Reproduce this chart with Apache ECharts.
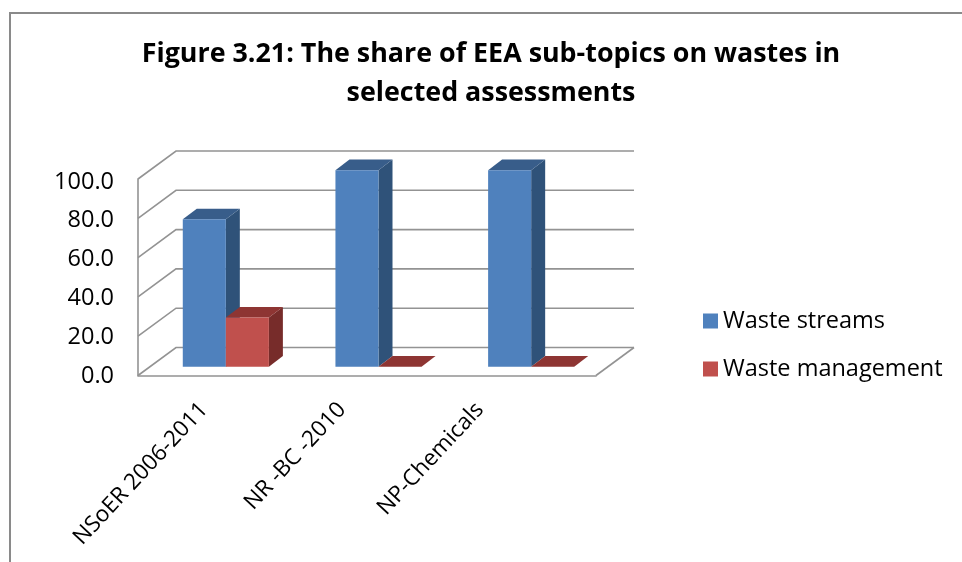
<!DOCTYPE html>
<html>
<head>
<meta charset="utf-8">
<script src="https://cdn.jsdelivr.net/npm/echarts@6/dist/echarts.min.js"></script>
<style>html,body{margin:0;padding:0;background:#fff}#c{width:962px;height:562px}</style>
</head>
<body>
<div id="c"></div>
<script>
const titleText = 'Figure 3.21: The share of EEA sub-topics on wastes in\nselected assessments';
const categories = ['NSoER 2006-2011', 'NR -BC -2010', 'NP-Chemicals'];
const wasteStreams = [75, 100, 100];
const wasteManagement = [25, 0, 0];
const valueTicks = [0, 20, 40, 60, 80, 100];

const FONT = '"Open Sans"';
const DEPTH_X = 38, DEPTH_Y = -28;
const BAR_SHIFT_X = 11.5, BAR_SHIFT_Y = -8.8, BAR_DX = 14, BAR_DY = -10.7, BAR_FRAC = 0.282;
const LINE = { stroke: '#939393', lineWidth: 1.6, fill: null };

function barRenderer(slot, front, side, top) {
  return function (params, api) {
    const idx = api.value(0), v = api.value(1);
    const base = api.coord([idx, 0]), tip = api.coord([idx, v]);
    const w = api.size([1, 0])[0] * BAR_FRAC;
    const x0 = base[0] + BAR_SHIFT_X + slot * w, x1 = x0 + w;
    const yb = base[1] + BAR_SHIFT_Y, yt = tip[1] + BAR_SHIFT_Y;
    const poly = (pts, fill) => ({ type: 'polygon', shape: { points: pts }, style: { fill: fill } });
    return {
      type: 'group',
      children: [
        poly([[x1, yb], [x1 + BAR_DX, yb + BAR_DY], [x1 + BAR_DX, yt + BAR_DY], [x1, yt]], side),
        poly([[x0, yt], [x1, yt], [x1 + BAR_DX, yt + BAR_DY], [x0 + BAR_DX, yt + BAR_DY]], top),
        { type: 'rect', shape: { x: x0, y: yt, width: w, height: yb - yt }, style: { fill: front } }
      ]
    };
  };
}

function wallRenderer(params, api) {
  const v = api.value(0);
  const a = api.coord([0, v]);
  const rect = params.coordSys;
  const left = rect.x, right = rect.x + rect.width, y = a[1];
  const children = [{
    type: 'polyline',
    shape: { points: [[left, y], [left + DEPTH_X, y + DEPTH_Y], [right + DEPTH_X, y + DEPTH_Y]] },
    style: LINE
  }];
  if (v === 0) {
    children.push({
      type: 'polyline',
      shape: { points: [[right, y], [right + DEPTH_X, y + DEPTH_Y]] },
      style: LINE
    });
  }
  return { type: 'group', children: children };
}

const chart = echarts.init(document.getElementById('c'), null, { renderer: 'canvas' });
chart.setOption({
  animation: false,
  backgroundColor: '#fff',
  title: {
    text: titleText,
    left: 486,
    top: 30,
    textAlign: 'center',
    textStyle: { fontFamily: FONT, fontWeight: 'bold', fontSize: 26.85, lineHeight: 39, color: '#000' }
  },
  graphic: [{
    type: 'polyline',
    shape: { points: [[962, 13], [10, 13], [10, 562]] },
    style: { stroke: '#8a8a8a', lineWidth: 2, fill: null },
    silent: true
  }],
  legend: {
    left: 698,
    top: 304,
    orient: 'vertical',
    itemWidth: 15,
    itemHeight: 15,
    itemGap: 24,
    icon: 'rect',
    data: ['Waste streams', 'Waste management'],
    textStyle: { fontFamily: FONT, fontSize: 23.5, lineHeight: 24, color: '#000' }
  },
  grid: [
    { left: 138, top: 179, width: 458, height: 196.5 },
    { left: 135, top: 182, width: 414, height: 194 }
  ],
  xAxis: [
    { type: 'category', gridIndex: 0, data: categories, axisLine: { show: true, lineStyle: { color: '#939393', width: 1.6 } }, axisTick: { show: false }, axisLabel: { show: false } },
    {
      type: 'category', gridIndex: 1, data: categories,
      axisLine: { show: false }, axisTick: { show: false },
      axisLabel: { interval: 0, rotate: 47, margin: 30, fontFamily: FONT, fontSize: 22.5, color: '#000' }
    }
  ],
  yAxis: [
    { type: 'value', gridIndex: 0, min: 0, max: 100, interval: 20, axisLine: { show: true, lineStyle: { color: '#939393', width: 1.6 } }, axisTick: { show: false }, splitLine: { show: false }, axisLabel: { show: false } },
    {
      type: 'value', gridIndex: 1, min: 0, max: 100, interval: 20,
      axisLine: { show: false }, axisTick: { show: false }, splitLine: { show: false },
      axisLabel: { margin: 21, fontFamily: FONT, fontSize: 23.5, color: '#000', formatter: v => v.toFixed(1) }
    }
  ],
  series: [
    {
      type: 'custom', name: 'walls', xAxisIndex: 0, yAxisIndex: 0, silent: true, z: 1,
      data: valueTicks.map(v => [v]), encode: { y: 0 },
      renderItem: wallRenderer
    },
    {
      type: 'custom', name: 'Waste streams', xAxisIndex: 0, yAxisIndex: 0, z: 2,
      itemStyle: { color: '#4F81BD' },
      data: wasteStreams.map((v, i) => [i, v]), encode: { x: 0, y: 1 },
      renderItem: barRenderer(-1, '#4F81BD', '#2F5279', '#385D8A')
    },
    {
      type: 'custom', name: 'Waste management', xAxisIndex: 0, yAxisIndex: 0, z: 3,
      itemStyle: { color: '#C0504D' },
      data: wasteManagement.map((v, i) => [i, v]), encode: { x: 0, y: 1 },
      renderItem: barRenderer(0, '#C0504D', '#772C2A', '#8E3533')
    }
  ]
});
</script>
</body>
</html>
